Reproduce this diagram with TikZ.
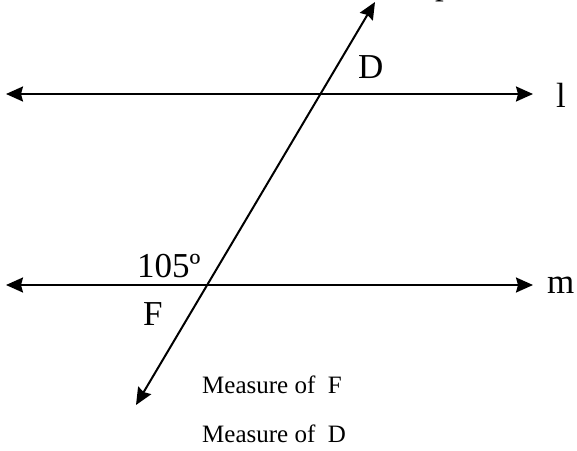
\documentclass[tikz,border=0pt]{standalone}
\usepackage{fontspec}
\setmainfont{Liberation Serif}
\usetikzlibrary{arrows.meta}
\tikzset{
  ray/.style={line width=2pt,
    {Stealth[length=17pt,width=15pt,inset=2pt]}-{Stealth[length=17pt,width=15pt,inset=2pt]}},
  biglabel/.style={inner sep=0pt, anchor=base west, font=\fontsize{35}{40}\selectfont},
  note/.style={inner sep=0pt, anchor=base west, font=\fontsize{25}{30}\selectfont}
}
\begin{document}
\begin{tikzpicture}[x=1pt,y=-1pt]
  \useasboundingbox (0,0) rectangle (577,450);
  \clip (0,0) rectangle (577,450);
  % the two parallel lines and the transversal
  \coordinate (lW) at (6,94);
  \coordinate (lE) at (533,94);
  \coordinate (mW) at (6,285);
  \coordinate (mE) at (533,285);
  \coordinate (tS) at (136,405);
  \coordinate (tN) at (375,2);
  \draw[ray] (lW) -- (lE);
  \draw[ray] (mW) -- (mE);
  \draw[ray] (tS) -- (tN);
  % labels
  \node[biglabel] (namep) at (435,-6) {p};
  \node[biglabel] (namel) at (556,107) {l};
  \node[biglabel] (namem) at (547,293) {m};
  \node[biglabel] (angD) at (358,78) {D};
  \node[biglabel] (ang105) at (137,277) {105º};
  \node[biglabel] (angF) at (143,325) {F};
  \node[note] (askF) at (202,393) {Measure of\ \ F};
  \node[note] (askD) at (202,442) {Measure of\ \ D};
\end{tikzpicture}
\end{document}
